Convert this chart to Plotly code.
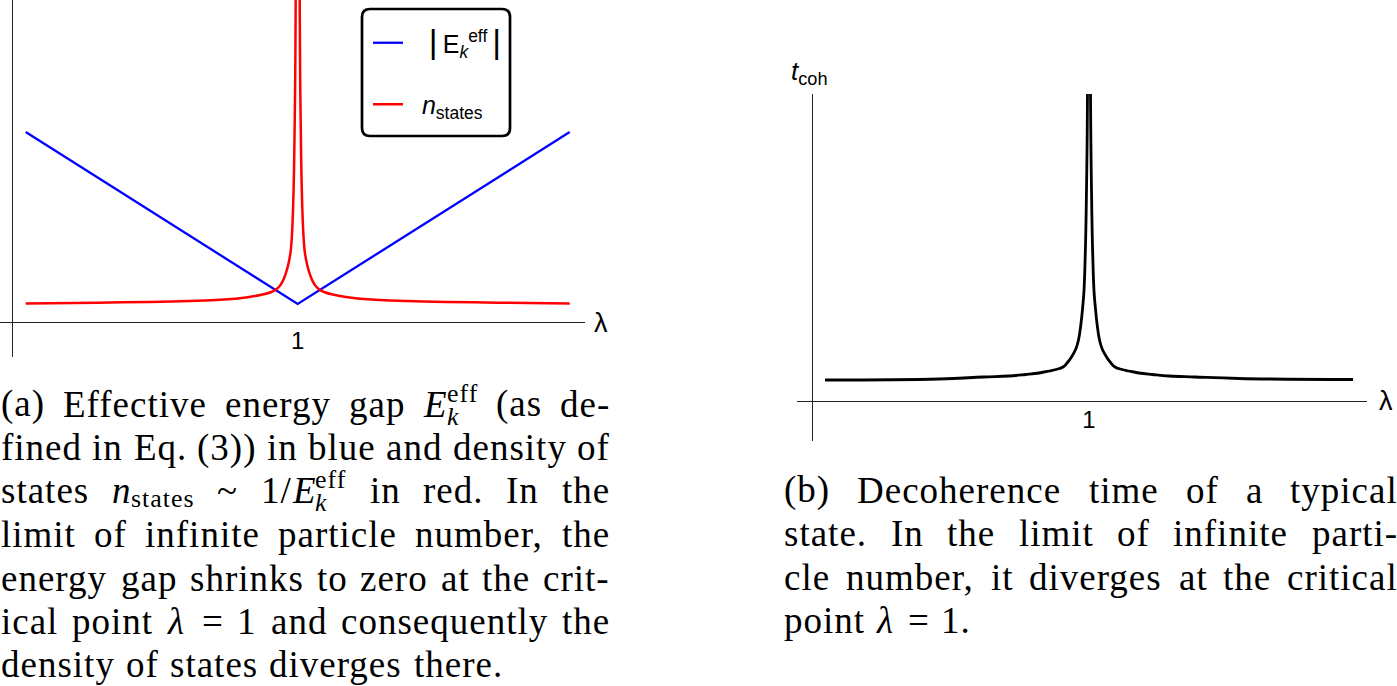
import plotly.graph_objects as go

# ---------------- data ----------------
lam_gap = [0.0, 1.0, 2.0]
gap_abs = [1.0, 0.095, 1.0]

lam_states = [0.0, 0.265, 0.456, 0.632, 0.713, 0.816, 0.871, 0.901, 0.917, 0.934,
              0.945, 0.956, 0.965, 0.974, 0.979, 0.9835, 0.9865, 0.989, 0.991, 0.9926, 0.9963,
              1.0037, 1.0074, 1.009, 1.011, 1.0135, 1.0165, 1.021, 1.026, 1.035, 1.044, 1.055, 1.066,
              1.083, 1.099, 1.129, 1.184, 1.287, 1.368, 1.544, 1.735, 2.0]
n_states = [0.098, 0.102, 0.106, 0.112, 0.117, 0.131, 0.145, 0.157, 0.168, 0.19,
            0.215, 0.255, 0.30, 0.37, 0.46, 0.62, 0.80, 1.05, 1.30, 1.69, 3.0,
            3.0, 1.69, 1.30, 1.05, 0.80, 0.62, 0.46, 0.37, 0.30, 0.255, 0.215, 0.19,
            0.168, 0.157, 0.145, 0.131, 0.117, 0.112, 0.106, 0.102, 0.098]

lam_coh = [0.0, 0.432, 0.60, 0.697, 0.76, 0.811, 0.85, 0.875, 0.9015, 0.92, 0.9337, 0.95, 0.9602,
           0.969, 0.9761, 0.981, 0.9856, 0.988, 0.9905, 0.9925, 0.9943, 0.997,
           1.003, 1.0057, 1.0075, 1.0095, 1.012, 1.0144, 1.019, 1.0239, 1.031, 1.0398, 1.05,
           1.0663, 1.08, 1.0985, 1.125, 1.15, 1.189, 1.24, 1.303, 1.40, 1.568, 2.0]
t_coh = [0.21, 0.22, 0.24, 0.25, 0.265, 0.28, 0.30, 0.315, 0.34, 0.39, 0.44, 0.52, 0.61,
         0.76, 0.94, 1.10, 1.44, 1.70, 2.11, 2.50, 3.07, 5.0,
         5.0, 3.07, 2.50, 2.11, 1.70, 1.44, 1.10, 0.94, 0.76, 0.61, 0.52,
         0.44, 0.39, 0.34, 0.315, 0.30, 0.28, 0.265, 0.25, 0.24, 0.225, 0.215]

tick_vals = [1]
tick_text = ["1"]

caption_a = [
    ["(a)", "Effective", "energy", "gap", "$Eeff", "(as", "de-"],
    ["fined", "in", "Eq.", "(3))", "in", "blue", "and", "density", "of"],
    ["states", "$nstates", "~", "$invEeff", "in", "red.", "In", "the"],
    ["limit", "of", "infinite", "particle", "number,", "the"],
    ["energy", "gap", "shrinks", "to", "zero", "at", "the", "crit-"],
    ["ical", "point", "$lambda", "=", "1", "and", "consequently", "the"],
    ["density", "of", "states", "diverges", "there."],
]
caption_b = [
    ["(b)", "Decoherence", "time", "of", "a", "typical"],
    ["state.", "In", "the", "limit", "of", "infinite", "parti-"],
    ["cle", "number,", "it", "diverges", "at", "the", "critical"],
    ["point", "$lambda", "=", "1."],
]

# ---------------- layout helpers ----------------
W, H = 1397, 686


def px(x):
    return x / W


def py(y):
    return 1 - y / H


SANS = "Liberation Sans, Arial, sans-serif"
SERIF = "Liberation Serif, Times New Roman, serif"
BAR = "<span style='font-size:34px'>|</span>"

fig = go.Figure()
fig.add_trace(go.Scatter(
    x=lam_gap, y=gap_abs, mode="lines", legendgroup="g1",
    name="\u00a0\u00a0\u00a0" + BAR + "\u2009E<sub><i>k</i></sub><sup>eff</sup>\u2009" + BAR,
    line=dict(color="#0000ff", width=2.3), xaxis="x", yaxis="y"))
fig.add_trace(go.Scatter(
    x=lam_states, y=n_states, mode="lines", legendgroup="g2",
    name="\u00a0\u00a0<i>n</i><sub>states</sub>",
    line=dict(color="#ff0000", width=2.5, shape="spline", smoothing=0.8),
    xaxis="x", yaxis="y"))
fig.add_trace(go.Scatter(
    x=lam_coh, y=t_coh, mode="lines", showlegend=False,
    line=dict(color="black", width=2.8, shape="spline", smoothing=1.2),
    xaxis="x2", yaxis="y2"))

axis_common = dict(showgrid=False, zeroline=False, showline=True,
                   linecolor="#222", linewidth=1.3, anchor="free")
xtick = dict(tickvals=tick_vals, ticktext=tick_text, ticks="", ticklabelstandoff=-3,
             tickfont=dict(family=SANS, size=24, color="black"))

fig.update_layout(
    width=W, height=H, autosize=False,
    margin=dict(l=0, r=0, t=0, b=0),
    paper_bgcolor="white", plot_bgcolor="white",
    font=dict(family=SANS, color="black"),
    xaxis=dict(domain=[0, px(585)], range=[-0.0945, 2.0563], position=py(322), **axis_common, **xtick),
    yaxis=dict(domain=[py(357), 1], range=[-0.184, 1.695], position=px(12), showticklabels=False, **axis_common),
    xaxis2=dict(domain=[px(797), px(1367)], range=[-0.106, 2.053], position=py(401), **axis_common, **xtick),
    yaxis2=dict(domain=[py(441), py(94)], range=[-0.40, 3.07], position=px(812), showticklabels=False, **axis_common),
    legend=dict(x=px(368), y=py(20), xanchor="left", yanchor="top", bgcolor="rgba(0,0,0,0)",
                borderwidth=0, font=dict(family=SANS, size=25, color="black"),
                tracegroupgap=26, itemwidth=30),
    showlegend=True,
)

# rounded legend frame
x0, x1, y0, y1, r = 362, 510, 9, 136, 8
pts = [("M", x0 + r, y0), ("L", x1 - r, y0), ("Q", x1, y0, x1, y0 + r), ("L", x1, y1 - r),
       ("Q", x1, y1, x1 - r, y1), ("L", x0 + r, y1), ("Q", x0, y1, x0, y1 - r),
       ("L", x0, y0 + r), ("Q", x0, y0, x0 + r, y0)]
path = ""
for p in pts:
    cmd = p[0]
    coords = p[1:]
    s = " ".join(f"{px(coords[i]):.5f},{py(coords[i+1]):.5f}" for i in range(0, len(coords), 2))
    path += f"{cmd} {s} "
path += "Z"
fig.add_shape(type="path", path=path, xref="paper", yref="paper",
              line=dict(color="black", width=2.7), fillcolor="rgba(0,0,0,0)")

ann = []
# axis labels
ann.append(dict(x=px(601), y=py(323), text="λ", xanchor="center", yanchor="middle",
                font=dict(family=SANS, size=27)))
ann.append(dict(x=px(1386), y=py(401), text="λ", xanchor="center", yanchor="middle",
                font=dict(family=SANS, size=27)))
ann.append(dict(x=px(809), y=py(72), text="<i>t</i><sub>coh</sub>", xanchor="center", yanchor="middle",
                font=dict(family=SANS, size=26)))

# ---------------- captions ----------------
FS = 37
LS = 1.0  # letter spacing, px
ROMAN = {' ': 250, '(': 333, ')': 333, ',': 250, '-': 333, '.': 250, '/': 278, '1': 500,
         '3': 500, '=': 564, '~': 541, 'D': 722, 'E': 611, 'I': 333, 'a': 444, 'b': 500,
         'c': 444, 'd': 500, 'e': 444, 'f': 333, 'g': 500, 'h': 500, 'i': 278, 'k': 500,
         'l': 278, 'm': 778, 'n': 500, 'o': 500, 'p': 500, 'q': 500, 'r': 333, 's': 389,
         't': 278, 'u': 500, 'v': 500, 'w': 722, 'x': 500, 'y': 500, 'z': 444}
ITALIC = {'E': 611, 'k': 444, 'n': 500, 'λ': 540}

E_SEGS = [("E", True, 1.0, 0, True), ("k", True, 0.7, -12, False), ("eff", False, 0.7, 11, True)]
MATH = {
    "$Eeff": E_SEGS,
    "$invEeff": [("1/", False, 1.0, 0, True)] + E_SEGS,
    "$nstates": [("n", True, 1.0, 0, True), ("states", False, 0.7, -8, True)],
    "$lambda": [("λ", True, 1.0, 0, True)],
}


def seg_w(text, italic, scale):
    tab = ITALIC if italic else ROMAN
    return sum(tab.get(c, ROMAN.get(c, 500)) for c in text) / 1000 * FS * scale + LS * len(text)


def tok_segs(tok):
    return MATH.get(tok, [(tok, False, 1.0, 0, True)])


def tok_w(tok):
    return sum(seg_w(t, it, sc) for t, it, sc, _, adv in tok_segs(tok) if adv)


def place_paragraph(lines, left, right, ys):
    for li, (words, yc) in enumerate(zip(lines, ys)):
        widths = [tok_w(w) for w in words]
        last = li == len(lines) - 1
        if last or len(words) < 2:
            gap = 0.3 * FS
        else:
            gap = (right - left - sum(widths)) / (len(words) - 1)
        x = left
        for w, wd in zip(words, widths):
            cx = x
            for t, it, sc, dy, adv in tok_segs(w):
                txt = f"<i>{t}</i>" if it else t
                txt = f"<span style='letter-spacing:{LS}px'>{txt}</span>"
                ann.append(dict(x=px(cx), y=py(yc), xanchor="left", yanchor="middle",
                                text=txt, yshift=dy, borderpad=0,
                                font=dict(family=SERIF, size=FS * sc, color="black")))
                if adv:
                    cx += seg_w(t, it, sc)
            x += wd + gap


place_paragraph(caption_a, 0, 609, [404, 447.5, 491, 534.5, 578, 621.5, 664])
place_paragraph(caption_b, 783, 1397, [490, 533.5, 577, 620.5])

for a in ann:
    a.setdefault("xref", "paper")
    a.setdefault("yref", "paper")
    a.setdefault("showarrow", False)
fig.update_layout(annotations=ann)

fig.write_html("out.html", config={"displayModeBar": False},
               post_script="document.body.style.margin='0';document.body.style.overflow='hidden';")
